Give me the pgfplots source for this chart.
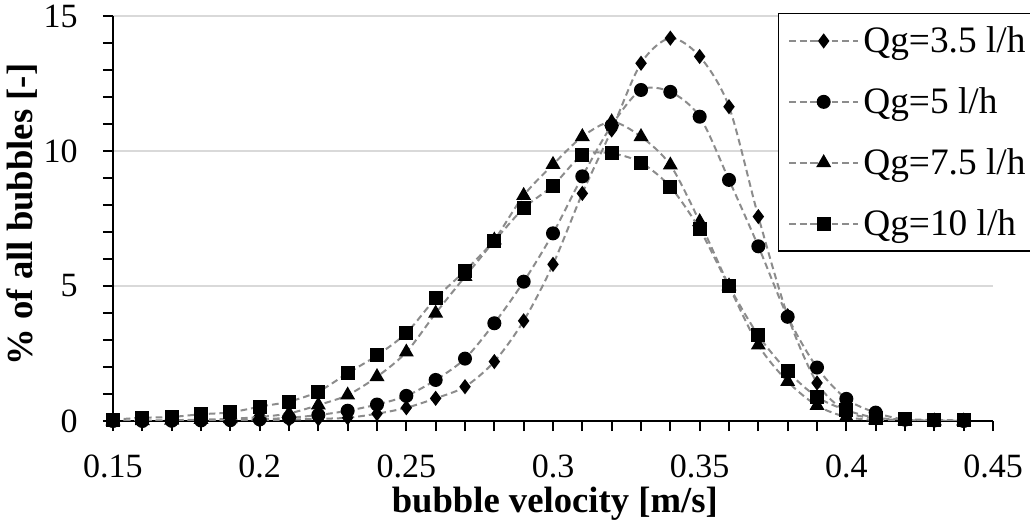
\documentclass[border=0pt]{standalone}
\usepackage{fontspec}
\setmainfont{Liberation Serif}
\usepackage{pgfplots}
\usepackage{pgfplotstable}
\pgfplotsset{compat=1.18}
\definecolor{lnc}{HTML}{8C8C8C}
\definecolor{grd}{HTML}{D9D9D9}

\pgfplotstableread{
x d c t s
0.15 0 0 0 0.05
0.16 0 0 0.01 0.12
0.17 0 0.01 0.03 0.15
0.18 0.01 0.02 0.05 0.25
0.19 0.02 0.03 0.08 0.32
0.20 0.03 0.06 0.15 0.53
0.21 0.05 0.12 0.28 0.72
0.22 0.08 0.22 0.59 1.09
0.23 0.12 0.38 0.96 1.77
0.24 0.27 0.61 1.64 2.43
0.25 0.49 0.93 2.55 3.26
0.26 0.84 1.52 3.99 4.54
0.27 1.27 2.31 5.35 5.56
0.28 2.20 3.62 6.70 6.68
0.29 3.71 5.16 8.35 7.88
0.30 5.80 6.95 9.50 8.72
0.31 8.43 9.06 10.53 9.84
0.32 10.78 10.95 11.08 9.91
0.33 13.25 12.26 10.53 9.57
0.34 14.18 12.19 9.48 8.67
0.35 13.50 11.27 7.38 7.10
0.36 11.64 8.93 5.00 5.00
0.37 7.57 6.47 2.81 3.17
0.38 3.90 3.86 1.46 1.84
0.39 1.41 1.98 0.57 0.89
0.40 0.35 0.82 0.15 0.40
0.41 0.10 0.31 0.04 0.12
0.42 0.03 0.05 0.01 0.06
0.43 0.01 0.02 0 0.04
0.44 0 0 0 0.02
}\datatable

\begin{document}
\begin{tikzpicture}
\useasboundingbox (-84.75pt,-74.25pt) rectangle (687.75pt,315.75pt);
\begin{axis}[
  at={(0,0)}, anchor=south west, scale only axis,
  width=660pt, height=303.75pt,
  xmin=0.15, xmax=0.45, ymin=0, ymax=15,
  axis x line*=bottom, axis y line*=left,
  axis line style={black, line width=1.5pt, -},
  xtick={0.15,0.2,0.25,0.3,0.35,0.4,0.45},
  xticklabels={0.15,0.2,0.25,0.3,0.35,0.4,0.45},
  minor x tick num=4,
  ytick={0,5,10,15}, minor y tick num=4,
  tick align=outside,
  major tick length=7.5pt, minor tick length=7.5pt,
  tick style={black, line width=1.5pt},
  minor tick style={black, line width=1.5pt},
  ymajorgrids, major grid style={grd, line width=1pt},
  /pgf/number format/assume math mode=true,
  ticklabel style={font=\fontsize{25.5}{30}\selectfont},
  xticklabel style={anchor=north, inner sep=0pt, yshift=-18pt},
  yticklabel style={anchor=east, inner sep=0pt, xshift=-18.75pt},
  xlabel={bubble velocity [m/s]},
  ylabel={\% of all bubbles [-]},
  label style={font=\bfseries\fontsize{27.5}{33}\selectfont},
  xlabel style={at={(axis description cs:0.502,0)}, anchor=base, yshift=-68.25pt},
  ylabel style={at={(axis description cs:-0.092,0.51)}, anchor=base},
  clip mode=individual,
  every axis plot/.append style={lnc, line width=1.5pt, dash pattern=on 5pt off 3pt, smooth, tension=0.5, mark options={solid, draw=black, fill=black}},
  legend style={at={(rel axis cs:0.7557,1.0074)}, anchor=north west, draw=black, line width=1pt,
    font=\fontsize{28}{33}\selectfont, inner sep=7pt, row sep=18.75pt,
    nodes={inner sep=3pt}, cells={anchor=west}},
  legend image code/.code={\draw[mark repeat=2, mark phase=2] plot coordinates {(0pt,0pt) (26pt,0pt) (52pt,0pt)};},
]
\addplot[mark=diamond*, mark size=4.5pt] table[x=x, y=d] {\datatable};
\addlegendentry{Qg=3.5 l/h}
\addplot[mark=*, mark size=4.5pt] table[x=x, y=c] {\datatable};
\addlegendentry{Qg=5 l/h}
\addplot[mark=triangle*, mark size=5pt] table[x=x, y=t] {\datatable};
\addlegendentry{Qg=7.5 l/h}
\addplot[mark=square*, mark size=4.5pt] table[x=x, y=s] {\datatable};
\addlegendentry{Qg=10 l/h}
\end{axis}
\end{tikzpicture}
\end{document}
